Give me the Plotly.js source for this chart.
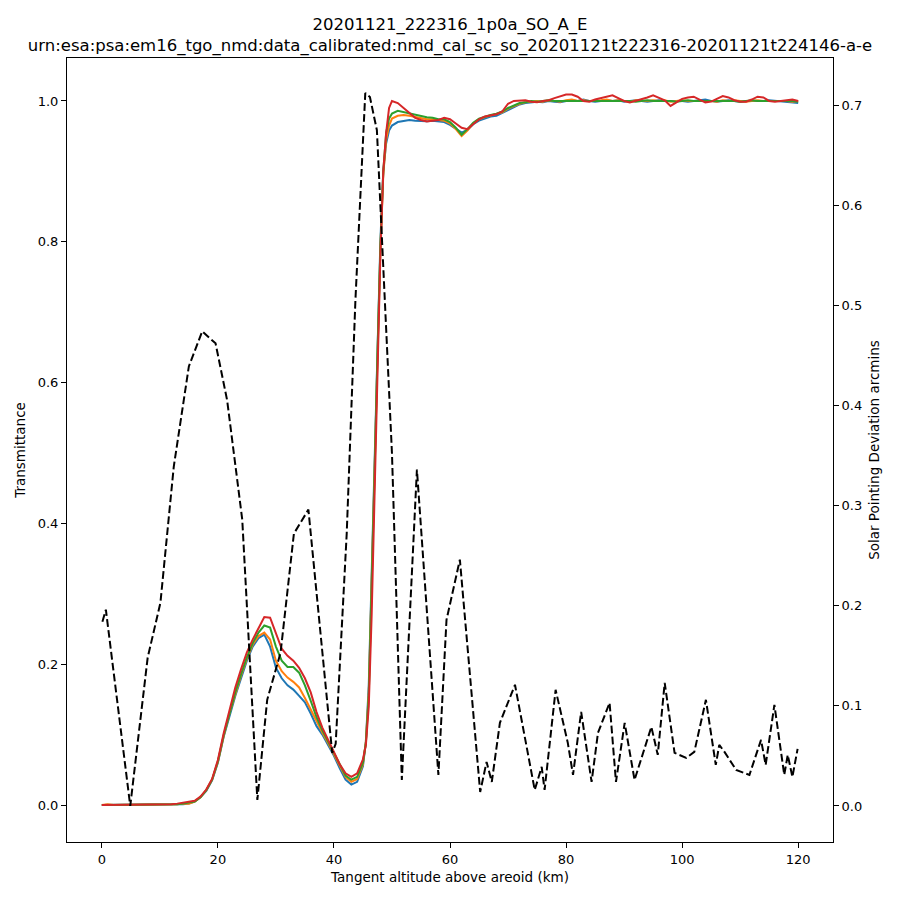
<!DOCTYPE html>
<html>
<head>
<meta charset="utf-8">
<script src="https://cdn.plot.ly/plotly-3.0.1.min.js"></script>
<style>html,body{margin:0;padding:0;background:#fff}#chart{width:900px;height:900px}</style>
</head>
<body>
<div id="chart"></div>
<script>
const altitude = [0,1,2,3,4,5,6,7,8,9,10,11,12,13,14,15,16,17,18,19,20,21,22,23,24,25,26,27,28,29,30,31,32,33,34,35,36,37,38,39,40,41,42,43,44,45,
  45.5,46,46.5,47,47.5,48,48.5,49,49.5,
  50,51,52,53,54,55,56,57,58,59,60,61,62,63,64,65,66,67,68,69,70,71,72,73,74,75,76,77,78,79,80,81,82,83,84,85,86,87,88,89,90,
  91,92,93,94,95,96,97,98,99,100,101,102,103,104,105,106,107,108,109,110,111,112,113,114,115,116,117,118,119,120];

const transA = [0.000,0.000,0.001,0.000,0.000,0.001,0.000,0.000,0.001,0.000,0.000,0.001,0.001,0.001,0.001,
  0.002,0.005,0.011,0.020,0.035,0.060,0.097,0.128,0.155,0.180,0.205,0.225,0.237,0.242,0.225,0.195,0.180,0.170,0.164,0.155,0.146,0.130,0.112,0.100,0.085,0.070,0.052,0.036,0.029,0.033,0.055,
  0.090,0.170,0.330,0.500,0.660,0.800,0.900,0.940,0.958,
  0.965,0.970,0.972,0.973,0.972,0.971,0.971,0.972,0.971,0.970,0.966,0.961,0.955,0.959,0.967,0.972,0.975,0.978,0.979,0.983,0.987,0.991,0.995,0.997,0.998,0.999,0.998,1.000,0.999,0.998,1.000,
  1.001,1.000,1.002,1.000,0.999,1.000,1.001,1.000,1.001,0.999,1.000,1.001,1.000,0.999,1.000,1.001,1.000,1.000,1.001,1.000,0.999,1.000,1.001,1.002,1.000,0.999,1.000,1.001,1.000,0.999,1.000,1.000,0.999,1.000,1.001,1.000,0.999,0.999,0.998,0.997];

const transB = [0.000,0.001,0.000,0.000,0.001,0.000,0.000,0.001,0.000,0.000,0.001,0.000,0.001,0.001,0.002,
  0.002,0.005,0.011,0.021,0.036,0.061,0.098,0.130,0.158,0.184,0.208,0.228,0.240,0.245,0.235,0.205,0.190,0.181,0.175,0.167,0.152,0.135,0.118,0.103,0.088,0.072,0.055,0.040,0.033,0.037,0.058,
  0.090,0.160,0.310,0.480,0.645,0.790,0.895,0.945,0.965,
  0.975,0.979,0.980,0.979,0.977,0.975,0.974,0.974,0.973,0.972,0.968,0.960,0.950,0.958,0.968,0.974,0.977,0.979,0.981,0.984,0.989,0.993,0.996,0.998,0.999,1.000,0.999,1.001,1.000,0.999,1.001,
  1.002,1.000,1.001,1.000,1.000,1.001,1.002,1.000,1.001,1.000,0.999,1.001,1.000,1.000,1.001,1.000,1.001,0.999,1.000,1.001,1.000,1.000,1.001,1.000,1.000,0.999,1.001,1.000,1.001,1.000,0.999,1.000,1.001,1.000,1.000,1.001,1.000,1.000,0.999,1.000];

const transC = [0.000,0.000,0.000,0.001,0.000,0.000,0.001,0.000,0.000,0.001,0.000,0.001,0.001,0.001,0.002,
  0.003,0.005,0.011,0.021,0.036,0.062,0.099,0.131,0.160,0.186,0.210,0.230,0.245,0.255,0.252,0.225,0.205,0.196,0.196,0.188,0.170,0.148,0.125,0.106,0.090,0.074,0.057,0.042,0.036,0.040,0.060,
  0.088,0.155,0.300,0.470,0.640,0.790,0.900,0.955,0.975,
  0.982,0.986,0.984,0.982,0.980,0.979,0.977,0.976,0.974,0.974,0.970,0.962,0.952,0.960,0.969,0.975,0.978,0.980,0.982,0.985,0.990,0.994,0.997,0.998,1.000,0.999,1.000,1.001,1.000,1.000,1.001,
  1.000,1.001,1.000,1.001,1.000,1.000,1.001,1.000,1.000,1.001,1.000,0.999,1.000,1.001,1.000,1.000,1.001,1.000,0.999,1.000,1.001,1.000,1.000,1.001,1.000,1.000,1.001,1.000,1.000,0.999,1.000,1.001,1.000,1.000,1.001,1.000,1.000,1.001,1.000,0.999];

const transD = [0.000,0.000,0.001,0.000,0.000,0.000,0.001,0.000,0.001,0.000,0.000,0.001,0.001,0.002,0.003,
  0.004,0.006,0.012,0.022,0.037,0.064,0.102,0.136,0.167,0.193,0.217,0.235,0.252,0.267,0.266,0.245,0.222,0.212,0.205,0.195,0.180,0.160,0.132,0.110,0.092,0.075,0.058,0.045,0.040,0.045,0.065,
  0.085,0.140,0.270,0.440,0.620,0.780,0.900,0.955,0.990,
  1.000,0.997,0.990,0.982,0.976,0.973,0.971,0.972,0.973,0.976,0.974,0.968,0.962,0.960,0.967,0.974,0.978,0.980,0.981,0.985,0.996,1.000,1.000,1.001,0.999,0.998,1.000,1.001,1.004,1.007,1.009,
  1.009,1.006,1.000,0.999,1.002,1.004,1.007,1.008,1.004,1.000,0.998,1.000,1.002,1.005,1.008,1.004,1.001,0.993,0.998,1.003,1.005,1.006,1.002,0.998,0.999,1.003,1.007,1.005,1.001,0.999,0.999,1.002,1.006,1.005,1.000,0.999,1.000,1.002,1.002,1.000];

const pointingAltitude = [0.1,0.7,4.9,7.9,10.1,12.4,15.0,17.3,19.6,21.6,24.2,26.8,28.5,30.8,33.1,35.6,39.7,40.3,42.2,43.7,45.4,46.2,47.4,48.8,50.0,51.7,54.3,58.0,59.4,61.7,65.2,66.3,67.2,68.6,71.2,74.6,75.8,76.3,78.2,80.3,81.2,82.6,84.4,85.5,87.5,88.6,90.1,91.8,94.7,95.8,97.0,98.7,100.7,102.1,104.1,105.8,106.4,107.3,109.3,111.6,113.6,114.4,115.9,117.6,118.2,119.0,119.9];
const pointingDeviation = [0.184,0.196,0.000,0.148,0.203,0.339,0.439,0.474,0.462,0.405,0.286,0.006,0.106,0.153,0.272,0.296,0.053,0.062,0.272,0.505,0.712,0.708,0.675,0.505,0.352,0.026,0.336,0.031,0.186,0.246,0.014,0.044,0.024,0.083,0.121,0.016,0.039,0.016,0.116,0.063,0.031,0.094,0.024,0.073,0.103,0.024,0.083,0.026,0.079,0.051,0.123,0.053,0.048,0.054,0.106,0.041,0.061,0.054,0.036,0.031,0.066,0.041,0.101,0.031,0.051,0.029,0.057];

const seriesValues = [transA, transB, transC, transD];
const seriesColors = ['#1f77b4','#ff7f0e','#2ca02c','#d62728'];

const traces = seriesValues.map((v, i) => ({
  x: altitude, y: v, type: 'scatter', mode: 'lines',
  line: {color: seriesColors[i], width: 2}, xaxis: 'x', yaxis: 'y', showlegend: false
}));
traces.push({
  x: pointingAltitude, y: pointingDeviation, type: 'scatter', mode: 'lines',
  line: {color: '#000000', width: 2, dash: '7.7px,3.3px'}, xaxis: 'x', yaxis: 'y2', showlegend: false
});

const axisCommon = {
  showline: true, mirror: true, linecolor: '#000', linewidth: 1,
  ticks: 'outside', ticklen: 5, tickwidth: 1, tickcolor: '#000',
  showgrid: false, zeroline: false,
  tickfont: {family: 'DejaVu Sans', size: 13, color: '#000'}
};

const layout = {
  width: 900, height: 900,
  margin: {l: 67, r: 67, t: 58, b: 58, pad: 0},
  paper_bgcolor: '#fff', plot_bgcolor: '#fff',
  font: {family: 'DejaVu Sans', color: '#000'},
  title: {
    text: '20201121_222316_1p0a_SO_A_E<br>urn:esa:psa:em16_tgo_nmd:data_calibrated:nmd_cal_sc_so_20201121t222316-20201121t224146-a-e',
    x: 0.5, xanchor: 'center', xref: 'paper',
    y: 1 - 30/900, yref: 'container', yanchor: 'top',
    font: {family: 'DejaVu Sans', size: 16.5, color: '#000'}
  },
  xaxis: Object.assign({}, axisCommon, {
    range: [-6, 126], tickvals: [0,20,40,60,80,100,120],
    title: {text: 'Tangent altitude above areoid (km)', font: {family: 'DejaVu Sans', size: 13.5}, standoff: 6}
  }),
  yaxis: Object.assign({}, axisCommon, {
    range: [-0.0525, 1.061], tickvals: [0,0.2,0.4,0.6,0.8,1.0], tickformat: '.1f',
    title: {text: 'Transmittance', font: {family: 'DejaVu Sans', size: 13.5}, standoff: 8}
  }),
  yaxis2: Object.assign({}, axisCommon, {
    overlaying: 'y', side: 'right', mirror: false,
    range: [-0.036, 0.747], tickvals: [0,0.1,0.2,0.3,0.4,0.5,0.6,0.7], tickformat: '.1f',
    title: {text: 'Solar Pointing Deviation arcmins', font: {family: 'DejaVu Sans', size: 13.5}, standoff: 8}
  })
};

Plotly.newPlot('chart', traces, layout, {displayModeBar: false, staticPlot: true});
</script>
</body>
</html>
